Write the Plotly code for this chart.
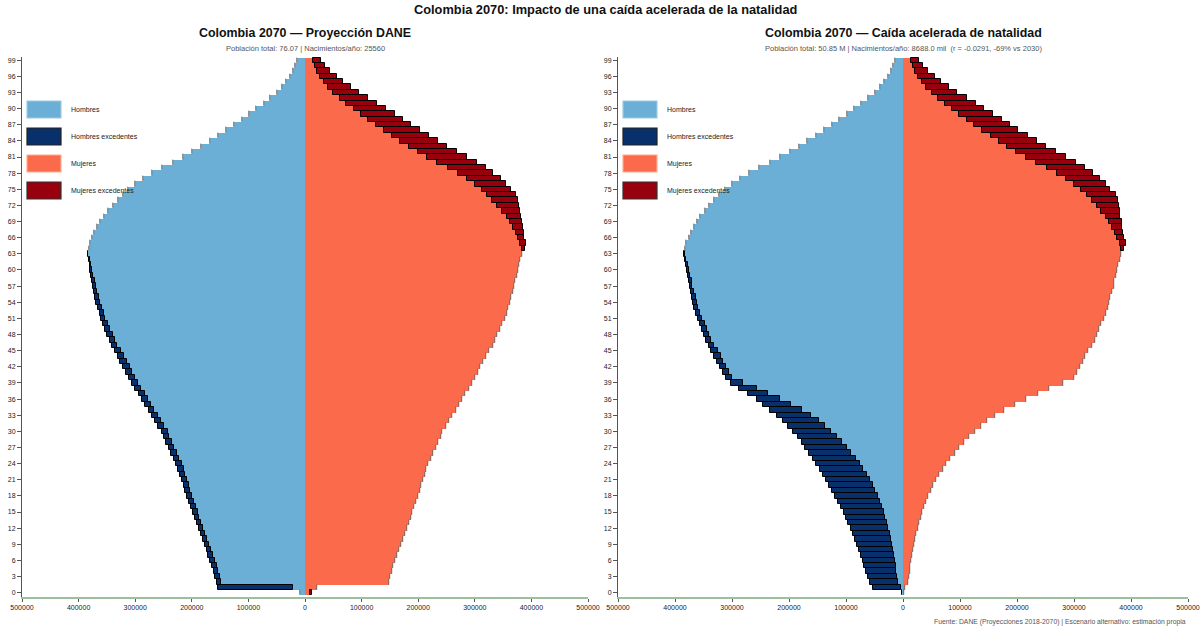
import plotly.graph_objects as go

# ---------------- data ----------------
edades = list(range(100))
ticks_edad = list(range(0, 100, 3))
ticks_x = [-500000, -400000, -300000, -200000, -100000, 0, 100000, 200000, 300000, 400000, 500000]
ticks_x_txt = ["500000", "400000", "300000", "200000", "100000", "0", "100000", "200000", "300000", "400000", "500000"]

hombres_dane = [
    9000, 153000, 156000, 159000, 161500, 164000, 167500, 171000, 174000, 177000,
    181000, 184500, 188000, 191500, 195000, 198000, 201500, 205000, 208500, 211500,
    214500, 217500, 221000, 224000, 227500, 232000, 236500, 241000, 245000, 249000,
    253000, 259000, 264500, 270500, 276500, 282000, 288000, 294000, 300000, 305500,
    311000, 316000, 321000, 326000, 331000, 336000, 341000, 345000, 349000, 353000,
    357000, 360000, 363000, 366000, 368500, 370500, 372500, 374500, 376000, 377500,
    379000, 380500, 382000, 383500, 382500, 380000, 376000, 372000, 367000, 362000,
    356000, 348000, 340000, 331000, 322000, 312000, 300000, 286000, 270000, 252000,
    234000, 216000, 199000, 183000, 168000, 153500, 139000, 125000, 112000, 99000,
    86000, 73000, 62000, 50000, 41000, 33000, 26500, 21500, 17000, 13500]

mujeres_dane = [
    12000, 21000, 148000, 151000, 153500, 156000, 159500, 163000, 166000, 169000,
    172500, 176000, 179500, 183000, 186500, 189500, 193000, 196500, 200000, 203000,
    205000, 208000, 211500, 214500, 218000, 222500, 227000, 231500, 235500, 239500,
    242500, 248500, 254000, 260000, 266000, 271500, 277500, 283500, 289500, 295000,
    300000, 305000, 310000, 315000, 320000, 325000, 332000, 336000, 340000, 344000,
    348000, 353000, 356000, 359000, 361500, 363500, 367500, 369500, 371000, 374000,
    375500, 378000, 380500, 383000, 388000, 390500, 387500, 386500, 384500, 383500,
    381500, 380500, 378500, 376500, 373000, 363500, 355500, 345500, 332500, 320000,
    304000, 286500, 268500, 250500, 234500, 218500, 202500, 187500, 173500, 158500,
    142500, 127500, 112000, 95500, 80500, 67500, 57000, 44500, 34500, 27500]

hombres_alt = [
    1500, 53500, 58000, 62000, 65000, 68000, 71000, 74000, 77000, 80500,
    84000, 88000, 92000, 96000, 100000, 104000, 109000, 114000, 119000, 124500,
    130000, 135500, 141000, 146000, 152000, 158000, 165000, 172000, 178000, 185000,
    193000, 201000, 210000, 221000, 233000, 245000, 257000, 272000, 287000, 301000,
    311000, 316000, 321000, 326000, 331000, 336000, 341000, 345000, 349000, 353000,
    357000, 360000, 363000, 366000, 368500, 370500, 372500, 374500, 376000, 377500,
    379000, 380500, 382000, 383500, 382500, 380000, 376000, 372000, 367000, 362000,
    356000, 348000, 340000, 331000, 322000, 312000, 300000, 286000, 270000, 252000,
    234000, 216000, 199000, 183000, 168000, 153500, 139000, 125000, 112000, 99000,
    86000, 73000, 62000, 50000, 41000, 33000, 26500, 21500, 17000, 13500]

mujeres_alt = [
    1000, 4000, 8000, 10000, 11500, 13000, 14500, 16000, 17500, 19500,
    21500, 23500, 26000, 28500, 31000, 34000, 37000, 40500, 44000, 48500,
    53000, 58500, 64000, 70000, 76000, 83000, 91000, 99000, 107000, 116000,
    126000, 136000, 148000, 161000, 178000, 197000, 216000, 236000, 256000, 280000,
    300000, 305000, 310000, 315000, 320000, 325000, 332000, 336000, 340000, 344000,
    348000, 353000, 356000, 359000, 361500, 363500, 367500, 369500, 371000, 374000,
    375500, 378000, 380500, 383000, 388000, 390500, 387500, 386500, 384500, 383500,
    381500, 380500, 378500, 376500, 373000, 363500, 355500, 345500, 332500, 320000,
    304000, 286500, 268500, 250500, 234500, 218500, 202500, 187500, 173500, 158500,
    142500, 127500, 112000, 95500, 80500, 67500, 57000, 44500, 34500, 27500]

titulo = "Colombia 2070: Impacto de una caída acelerada de la natalidad"
titulos_panel = ["Colombia 2070 — Proyección DANE", "Colombia 2070 — Caída acelerada de natalidad"]
subtitulos = ["Población total: 76.07 | Nacimientos/año: 25560",
              "Población total: 50.85 M | Nacimientos/año: 8688.0 mil  (r = -0.0291, -69% vs 2030)"]
fuente = "Fuente: DANE (Proyecciones 2018-2070) | Escenario alternativo: estimación propia"
leyenda = ["Hombres", "Hombres excedentes", "Mujeres", "Mujeres excedentes"]

# ---------------- style ----------------
COL_H, COL_HE, COL_M, COL_ME = "#6baed6", "#08306b", "#fb6a4a", "#99000d"
FONT = "Liberation Sans, Arial, sans-serif"
W, H = 1200, 630
ML, MR, MT, MB = 22, 12, 57, 33
PW, PH = W - ML - MR, H - MT - MB
PANEL_PX = [(22, 588), (618, 1188)]


def px_x(px):
    return (px - ML) / PW


def px_y(py):
    return (H - MB - py) / PH


def outline(vals):
    # thick black outline for real excess bars, faint grey edge for zero-length ones
    widths = [1 if v > 0 else 0.6 for v in vals]
    colors = ["#000000" if v > 0 else "#6a6a6a" for v in vals]
    return dict(color=colors, width=widths)


fig = go.Figure()

for i, (hom, muj) in enumerate([(hombres_dane, mujeres_dane), (hombres_alt, mujeres_alt)]):
    xa = "x" if i == 0 else "x2"
    ya = "y" if i == 0 else "y2"
    comun = [min(h, m) for h, m in zip(hom, muj)]
    exc_h = [max(h - m, 0) for h, m in zip(hom, muj)]
    exc_m = [max(m - h, 0) for h, m in zip(hom, muj)]
    fig.add_trace(go.Bar(y=edades, x=[-c for c in comun], orientation="h", width=1,
                         marker=dict(color=COL_H, line=dict(width=0)), name=leyenda[0],
                         showlegend=False, xaxis=xa, yaxis=ya))
    fig.add_trace(go.Bar(y=edades, x=comun, orientation="h", width=1,
                         marker=dict(color=COL_M, line=dict(width=0)), name=leyenda[2],
                         showlegend=False, xaxis=xa, yaxis=ya))
    fig.add_trace(go.Bar(y=edades, x=[-e for e in exc_h], base=[-c for c in comun],
                         orientation="h", width=1,
                         marker=dict(color=COL_HE, line=outline(exc_h)),
                         name=leyenda[1], showlegend=False, xaxis=xa, yaxis=ya))
    fig.add_trace(go.Bar(y=edades, x=exc_m, base=comun, orientation="h", width=1,
                         marker=dict(color=COL_ME, line=outline(exc_m)),
                         name=leyenda[3], showlegend=False, xaxis=xa, yaxis=ya))

axis_x = dict(range=[-500000, 500000], tickvals=ticks_x, ticktext=ticks_x_txt,
              tickfont=dict(size=7, color="#222", family=FONT), showline=True,
              linecolor="#9dbf9d", linewidth=1.5, ticks="outside", ticklen=3,
              tickcolor="#555", showgrid=False, zeroline=False, fixedrange=True)
axis_y = dict(range=[-0.8, 99.6], tickvals=ticks_edad,
              tickfont=dict(size=7, color="#222", family=FONT), showline=True,
              linecolor="#555", linewidth=1, ticks="outside", ticklen=4,
              tickcolor="#555", showgrid=False, zeroline=False, fixedrange=True)

fig.update_layout(
    width=W, height=H, barmode="overlay", bargap=0,
    margin=dict(l=ML, r=MR, t=MT, b=MB, autoexpand=False),
    paper_bgcolor="white", plot_bgcolor="white", showlegend=False,
    font=dict(family=FONT, size=8, color="#222"),
    xaxis=dict(axis_x, domain=[px_x(PANEL_PX[0][0]), px_x(PANEL_PX[0][1])], anchor="y"),
    yaxis=dict(axis_y, domain=[0, 1], anchor="x"),
    xaxis2=dict(axis_x, domain=[px_x(PANEL_PX[1][0]), px_x(PANEL_PX[1][1])], anchor="y2"),
    yaxis2=dict(axis_y, domain=[0, 1], anchor="x2"),
)

ann = []
ann.append(dict(text="<b>" + titulo + "</b>", x=0.5, y=px_y(9), xref="paper", yref="paper",
                xanchor="center", yanchor="middle", showarrow=False,
                font=dict(size=12.8, color="#111", family=FONT)))
shapes = []
for i, (p0, p1) in enumerate(PANEL_PX):
    cx = px_x((p0 + p1) / 2)
    ann.append(dict(text="<b>" + titulos_panel[i] + "</b>", x=cx, y=px_y(33), xref="paper",
                    yref="paper", xanchor="center", yanchor="middle", showarrow=False,
                    font=dict(size=12.4, color="#111", family=FONT)))
    ann.append(dict(text=subtitulos[i], x=cx, y=px_y(48), xref="paper", yref="paper",
                    xanchor="center", yanchor="middle", showarrow=False,
                    font=dict(size=7.5, color="#555", family=FONT)))
    cols = [(COL_H, "#9ecae1"), (COL_HE, "#222222"), (COL_M, "#fcae91"), (COL_ME, "#333333")]
    for k, (lab, (fc, lc)) in enumerate(zip(leyenda, cols)):
        top = 101 + 27 * k
        shapes.append(dict(type="rect", xref="paper", yref="paper",
                           x0=px_x(p0 + 5), x1=px_x(p0 + 39), y0=px_y(top + 17), y1=px_y(top),
                           fillcolor=fc, line=dict(color=lc, width=1.2), layer="above"))
        ann.append(dict(text=lab, x=px_x(p0 + 47), y=px_y(top + 8.5), xref="paper", yref="paper",
                        xanchor="left", yanchor="middle", showarrow=False,
                        font=dict(size=7, color="#222", family=FONT)))

ann.append(dict(text=fuente, x=px_x(1188), y=px_y(622), xref="paper", yref="paper",
                xanchor="right", yanchor="middle", showarrow=False,
                font=dict(size=6.8, color="#555", family=FONT)))

fig.update_layout(annotations=ann, shapes=shapes)
fig.write_html("out.html")
